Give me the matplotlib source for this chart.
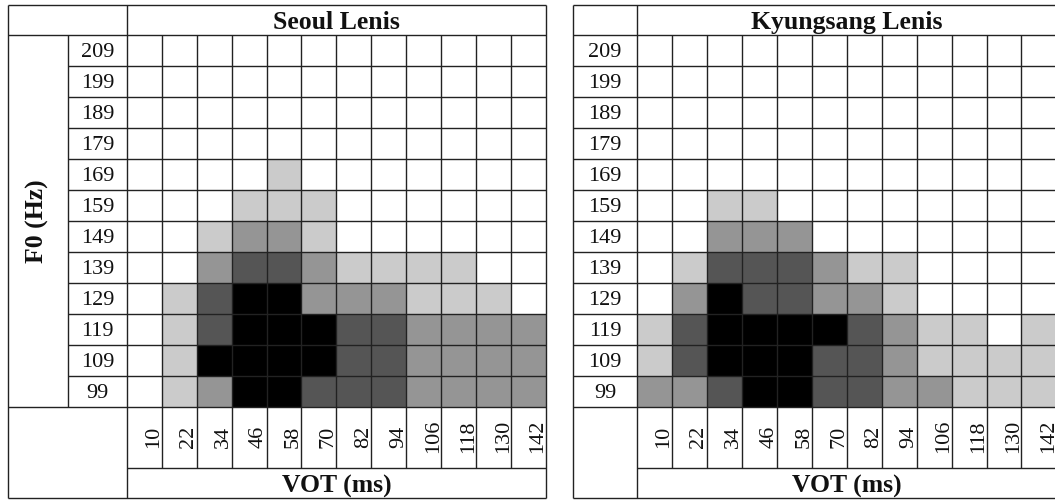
import numpy as np
import matplotlib
matplotlib.use("Agg")
import matplotlib.pyplot as plt
from matplotlib.colors import ListedColormap, BoundaryNorm

# ---- data ----
vot_labels = [10, 22, 34, 46, 58, 70, 82, 94, 106, 118, 130, 142]
f0_labels = [209, 199, 189, 179, 169, 159, 149, 139, 129, 119, 109, 99]
titles = ["Seoul Lenis", "Kyungsang Lenis"]

# density level per cell (0 = none ... 4 = highest), rows follow f0_labels
seoul = [
    [0, 0, 0, 0, 0, 0, 0, 0, 0, 0, 0, 0],
    [0, 0, 0, 0, 0, 0, 0, 0, 0, 0, 0, 0],
    [0, 0, 0, 0, 0, 0, 0, 0, 0, 0, 0, 0],
    [0, 0, 0, 0, 0, 0, 0, 0, 0, 0, 0, 0],
    [0, 0, 0, 0, 1, 0, 0, 0, 0, 0, 0, 0],
    [0, 0, 0, 1, 1, 1, 0, 0, 0, 0, 0, 0],
    [0, 0, 1, 2, 2, 1, 0, 0, 0, 0, 0, 0],
    [0, 0, 2, 3, 3, 2, 1, 1, 1, 1, 0, 0],
    [0, 1, 3, 4, 4, 2, 2, 2, 1, 1, 1, 0],
    [0, 1, 3, 4, 4, 4, 3, 3, 2, 2, 2, 2],
    [0, 1, 4, 4, 4, 4, 3, 3, 2, 2, 2, 2],
    [0, 1, 2, 4, 4, 3, 3, 3, 2, 2, 2, 2],
]
kyungsang = [
    [0, 0, 0, 0, 0, 0, 0, 0, 0, 0, 0, 0],
    [0, 0, 0, 0, 0, 0, 0, 0, 0, 0, 0, 0],
    [0, 0, 0, 0, 0, 0, 0, 0, 0, 0, 0, 0],
    [0, 0, 0, 0, 0, 0, 0, 0, 0, 0, 0, 0],
    [0, 0, 0, 0, 0, 0, 0, 0, 0, 0, 0, 0],
    [0, 0, 1, 1, 0, 0, 0, 0, 0, 0, 0, 0],
    [0, 0, 2, 2, 2, 0, 0, 0, 0, 0, 0, 0],
    [0, 1, 3, 3, 3, 2, 1, 1, 0, 0, 0, 0],
    [0, 2, 4, 3, 3, 2, 2, 1, 0, 0, 0, 0],
    [1, 3, 4, 4, 4, 4, 3, 2, 1, 1, 0, 1],
    [1, 3, 4, 4, 4, 3, 3, 2, 1, 1, 1, 1],
    [2, 2, 3, 4, 4, 3, 3, 2, 2, 1, 1, 1],
]

# ---- style ----
plt.rcParams['font.family'] = ['Liberation Serif', 'DejaVu Serif']
cmap = ListedColormap(['#ffffff', '#cbcbcb', '#959595', '#555555', '#000000'])
norm = BoundaryNorm([-0.5, 0.5, 1.5, 2.5, 3.5, 4.5], cmap.N)
LC = '#222222'
TC = '#111111'
LW = 1.0
FS = 16
TFS = 18.5

W, H = 1055, 504
fig = plt.figure(figsize=(W / 100, H / 100), dpi=100)
ax = fig.add_axes([0, 0, 1, 1])
ax.set_xlim(0, W)
ax.set_ylim(H, 0)
ax.axis('off')

top, title_b = 4.7, 34.7
rh = 31.0
cw = 34.95
data_b = title_b + rh * len(f0_labels)
tick_b = 467.7
bottom = 498.3


def draw_table(levels, title, left, num_l, data_l, f0_col):
    ncols = len(vot_labels)
    nrows = len(f0_labels)
    xe = data_l + cw * np.arange(ncols + 1)
    ye = title_b + rh * np.arange(nrows + 1)
    right = xe[-1]
    ax.pcolormesh(xe, ye, np.array(levels), cmap=cmap, norm=norm,
                  edgecolors='none', zorder=1)
    kw = dict(colors=LC, linewidth=LW, zorder=3)
    ax.hlines([top, bottom], left, right, **kw)
    ax.vlines([left, right], top, bottom, **kw)
    ax.hlines(title_b, left, right, **kw)
    ax.vlines(data_l, top, bottom, **kw)
    if f0_col:
        ax.vlines(num_l, title_b, data_b, **kw)
    ax.hlines(ye[1:-1], num_l, right, **kw)
    ax.hlines(data_b, left, right, **kw)
    ax.hlines(tick_b, data_l, right, **kw)
    ax.vlines(xe[1:-1], title_b, tick_b, **kw)
    # texts
    for y0, lab in zip(ye[:-1], f0_labels):
        ax.text((num_l + data_l) / 2, y0 + 22, str(lab), ha='center',
                va='baseline', fontsize=FS, color=TC)
    for x1, lab in zip(xe[1:], vot_labels):
        ax.text(x1 - 3.5, 436.5, str(lab), ha='center', va='baseline',
                rotation=90, rotation_mode='anchor', fontsize=FS, color=TC)
    ax.text((data_l + right) / 2, 29, title, ha='center', va='baseline',
            fontsize=TFS, fontweight='bold', color=TC)
    ax.text((data_l + right) / 2, 492.3, 'VOT (ms)', ha='center',
            va='baseline', fontsize=TFS, fontweight='bold', color=TC)
    if f0_col:
        ax.text(43.3, (title_b + data_b) / 2, 'F0 (Hz)', ha='center',
                va='baseline', rotation=90, rotation_mode='anchor',
                fontsize=TFS, fontweight='bold', color=TC)


draw_table(seoul, titles[0], 7.5, 68.3, 126.7, True)
draw_table(kyungsang, titles[1], 573.0, 573.0, 637.0, False)

fig.savefig('out.png', dpi=100)
